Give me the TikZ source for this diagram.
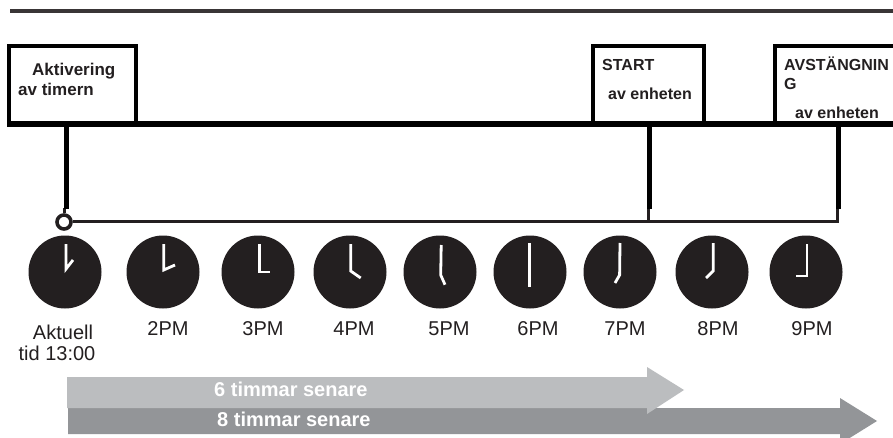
\documentclass[tikz,border=0pt]{standalone}
\usepackage{fontspec}
\setmainfont{Liberation Sans}
\definecolor{ink}{HTML}{231F20}
\definecolor{lightbar}{HTML}{BBBDBF}
\definecolor{darkbar}{HTML}{939598}
\tikzset{
  evbox/.style={draw=black,line width=4.6pt,fill=white,inner sep=0pt},
  heavy/.style={draw=black,line width=5pt},
  thin bus/.style={draw=ink,line width=3pt},
  dial/.style={circle,fill=ink,minimum size=73pt,inner sep=0pt},
  hand/.style={draw=white,line width=2.8pt,line join=miter},
  boldtxt/.style={anchor=base west,inner sep=0pt,text=ink,font=\fontsize{16}{16}\selectfont\bfseries},
  timetxt/.style={anchor=base,inner sep=0pt,text=ink,font=\fontsize{20}{20}\selectfont},
  bartxt/.style={anchor=base west,inner sep=0pt,text=white,font=\fontsize{20}{20}\selectfont\bfseries},
}
\begin{document}
\begin{tikzpicture}[x=1pt,y=-1pt]
\useasboundingbox (0,0) rectangle (893,438);
\clip (0,0) rectangle (893,438);
\fill[white] (0,0) rectangle (893,438);
% top rule
\coordinate (ruleL) at (10,11);
\coordinate (ruleR) at (893,11);
\draw[draw=ink!90,line width=3.6pt] (ruleL) -- (ruleR);
% boxes
\node[evbox,minimum width=127pt,minimum height=78pt] (b1) at (72.5,85) {};
\node[evbox,minimum width=111pt,minimum height=78pt] (b2) at (648.5,85) {};
\node[evbox,minimum width=140pt,minimum height=78pt] (b3) at (845,85) {};
% main bar
\coordinate (barL) at (7,124.5);
\coordinate (barR) at (893,124.5);
\draw[heavy,line width=6pt] (barL) -- (barR);
% timeline
\node[circle,draw=ink,line width=3.6pt,fill=white,minimum size=14pt,inner sep=0pt] (start) at (64,222) {};
\coordinate (t7) at (648,222);
\coordinate (t9) at (837,222);
\coordinate (d1) at (66,209);
\coordinate (d2) at (649,209);
\coordinate (d3) at (838,209);
\coordinate (u1) at (66,125);
\coordinate (u2) at (649,125);
\coordinate (u3) at (838,125);
\draw[thin bus] (start) -- (t9) -- ++(0,-13.5);
\draw[thin bus] (t7) -- ++(0,-13.5);
\draw[thin bus] (start.north) -- ++(0,-5);
\draw[heavy] (u1) -- (d1);
\draw[heavy] (u2) -- (d2);
\draw[heavy] (u3) -- (d3);
% box texts
\node[boldtxt,font=\fontsize{17}{17}\selectfont\bfseries] (t1a) at (32,76) {Aktivering};
\node[boldtxt,font=\fontsize{17}{17}\selectfont\bfseries] (t1b) at (18,96) {av timern};
\node[boldtxt] (t2a) at (602,71) {START};
\node[boldtxt] (t2b) at (608,100) {av enheten};
\node[boldtxt] (t3a) at (784,71) {AVSTÄNGNIN};
\node[boldtxt] (t3b) at (784,90) {G};
\node[boldtxt] (t3c) at (795,119) {av enheten};
% clocks
\node[dial] (c1) at (65,272) {};
\node[dial] (c2) at (163,272) {};
\node[dial] (c3) at (258,272) {};
\node[dial] (c4) at (350,272) {};
\node[dial] (c5) at (440,272) {};
\node[dial] (c6) at (530,272) {};
\node[dial] (c7) at (620,272) {};
\node[dial] (c8) at (712,272) {};
\node[dial] (c9) at (806,272) {};
\draw[hand] ([shift={(1,-28)}]c1.center) -- ([shift={(1,-3)}]c1.center) -- ([shift={(8,-12)}]c1.center);
\draw[hand] ([shift={(0.7,-28)}]c2.center) -- ([shift={(0.7,-2)}]c2.center) -- ([shift={(12,-7)}]c2.center);
\draw[hand] ([shift={(1.7,-28)}]c3.center) -- ([shift={(1.7,0)}]c3.center) -- ([shift={(11.7,0)}]c3.center);
\draw[hand] ([shift={(0.7,-28)}]c4.center) -- ([shift={(0.7,-1)}]c4.center) -- ([shift={(10.7,6)}]c4.center);
\draw[hand] ([shift={(1.2,-27)}]c5.center) -- ([shift={(0.7,3)}]c5.center) -- ([shift={(5,12.7)}]c5.center);
\draw[hand] ([shift={(-0.7,-29)}]c6.center) -- ([shift={(-0.7,15)}]c6.center);
\draw[hand] ([shift={(0,-29)}]c7.center) -- ([shift={(-0.4,3)}]c7.center) -- ([shift={(-5,11)}]c7.center);
\draw[hand] ([shift={(1.2,-29)}]c8.center) -- ([shift={(1.2,-1)}]c8.center) -- ([shift={(-6,6)}]c8.center);
\draw[hand] ([shift={(1,-28)}]c9.center) -- ([shift={(1,4)}]c9.center) -- ([shift={(-10,4)}]c9.center);
% time labels
\node[timetxt] (l1a) at (63,339) {Aktuell};
\node[timetxt] (l1b) at (57,360) {tid 13:00};
\node[timetxt] (l2) at (168,335) {2PM};
\node[timetxt] (l3) at (263,335) {3PM};
\node[timetxt] (l4) at (354,335) {4PM};
\node[timetxt] (l5) at (449,335) {5PM};
\node[timetxt] (l6) at (538,335) {6PM};
\node[timetxt] (l7) at (625,335) {7PM};
\node[timetxt] (l8) at (718,335) {8PM};
\node[timetxt] (l9) at (812,335) {9PM};
% duration arrows
\fill[darkbar] (68,408) -- (840,408) -- (840,398) -- (877,421) -- (840,444) -- (840,434) -- (68,434) -- cycle;
\fill[lightbar] (67,377) -- (647,377) -- (647,367) -- (684,390) -- (647,414) -- (647,408) -- (67,408) -- cycle;
\node[bartxt] (a6) at (214,396) {6 timmar senare};
\node[bartxt] (a8) at (217,426) {8 timmar senare};
\end{tikzpicture}
\end{document}
